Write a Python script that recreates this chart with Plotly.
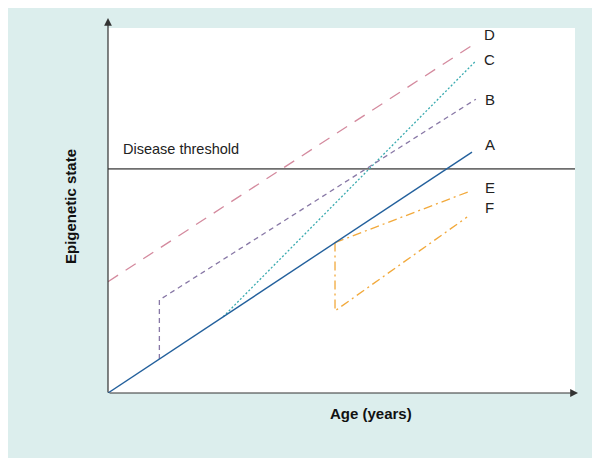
import plotly.graph_objects as go

# ---- data (conceptual units: age 0..90, epigenetic state 0..100) ----
a_x = [0, 70.15]
a_y = [0, 66.0]
b_x = [9.9, 9.9, 70.9]
b_y = [9.3, 25.5, 80.5]
c_x = [22.2, 70.9]
c_y = [20.9, 91.0]
d_x = [0, 70.9]
d_y = [30.5, 95.9]
e_x = [43.75, 69.4]
e_y = [41.2, 55.1]
f_x = [43.75, 43.75, 69.2]
f_y = [41.2, 22.5, 48.2]
threshold = 61.4
threshold_label = "Disease threshold"
labels = ["D", "C", "B", "A", "E", "F"]
label_x = [73.6, 73.6, 73.6, 73.6, 73.6, 73.6]
label_y = [98.1, 91.5, 80.5, 68.2, 56.4, 50.7]

X_MAX = 90
Y_MAX = 100

fig = go.Figure()

def add_line(x, y, color, dash, width=1.3):
    fig.add_trace(go.Scatter(x=x, y=y, mode="lines",
                             line=dict(color=color, dash=dash, width=width),
                             hoverinfo="skip", showlegend=False, cliponaxis=False))

# threshold line across full width
add_line([0, X_MAX], [threshold, threshold], "#6e6e6e", "solid", 1.8)
add_line(d_x, d_y, "#d48a9e", "12px,9px", 1.3)
add_line(c_x, c_y, "#3aabb0", "2px,2px", 1.3)
add_line(b_x, b_y, "#8878a6", "5px,4px", 1.3)
add_line(e_x, e_y, "#f2a93b", "9px,4px,2px,4px", 1.3)
add_line(f_x, f_y, "#f2a93b", "9px,4px,2px,4px", 1.3)
add_line(a_x, a_y, "#23609c", "solid", 1.4)

FONT = "Liberation Sans, Arial, Helvetica, sans-serif"

annotations = []
for t, lx, ly in zip(labels, label_x, label_y):
    annotations.append(dict(x=lx, y=ly, xref="x", yref="y", text=t, showarrow=False,
                            xanchor="center", yanchor="middle",
                            font=dict(family=FONT, size=15, color="#222222")))
annotations.append(dict(x=2.5, y=66.8, xref="x", yref="y", text=threshold_label,
                        showarrow=False, xanchor="left", yanchor="middle",
                        font=dict(family=FONT, size=14.5, color="#222222")))
# axis titles
annotations.append(dict(x=0.563, y=-0.0548, xref="paper", yref="paper", text="<b>Age (years)</b>",
                        showarrow=False, xanchor="center", yanchor="middle",
                        font=dict(family=FONT, size=15, color="#111111")))
annotations.append(dict(x=-0.0792, y=0.5096, xref="paper", yref="paper", text="<b>Epigenetic state</b>",
                        showarrow=False, xanchor="center", yanchor="middle", textangle=-90,
                        font=dict(family=FONT, size=15, color="#111111")))
# axis arrows
annotations.append(dict(x=0, y=1.0274, xref="paper", yref="paper", ax=0, ay=376,
                        showarrow=True, arrowhead=2, arrowsize=1.3, arrowwidth=1.2,
                        arrowcolor="#333333", text=""))
annotations.append(dict(x=1.0064, y=0, xref="paper", yref="paper", ax=-470, ay=0,
                        showarrow=True, arrowhead=2, arrowsize=1.3, arrowwidth=1.2,
                        arrowcolor="#333333", text=""))

shapes = [
    dict(type="rect", xref="paper", yref="paper",
         x0=-0.2163, x1=1.0428, y0=-0.1781, y1=1.0603,
         fillcolor="#dceeed", line=dict(width=0), layer="below"),
    dict(type="rect", xref="paper", yref="paper",
         x0=0, x1=1, y0=0, y1=1,
         fillcolor="white", line=dict(width=0), layer="below"),
]

# the page body adds an 8px offset, so margins are reduced by 8px
fig.update_layout(
    width=600, height=463,
    margin=dict(l=100, r=33, t=20, b=78),
    paper_bgcolor="white",
    plot_bgcolor="white",
    xaxis=dict(range=[0, X_MAX], visible=False, fixedrange=True),
    yaxis=dict(range=[0, Y_MAX], visible=False, fixedrange=True),
    annotations=annotations,
    shapes=shapes,
    showlegend=False,
)

fig.write_html("out.html")
